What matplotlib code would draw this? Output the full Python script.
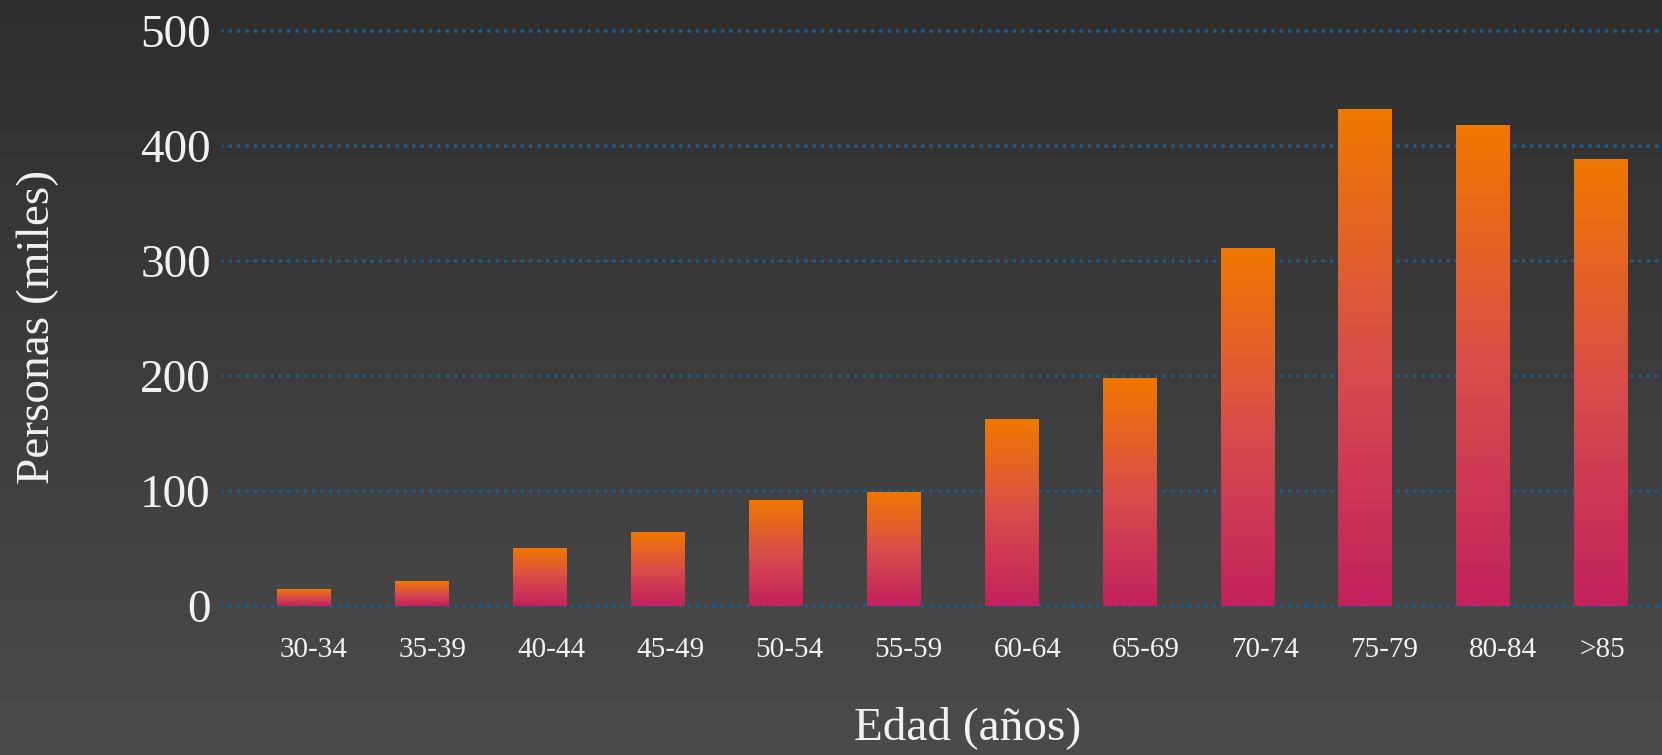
import numpy as np
import matplotlib.pyplot as plt
import matplotlib.transforms as mtransforms
from matplotlib.colors import LinearSegmentedColormap

# datos
grupos = ['30-34', '35-39', '40-44', '45-49', '50-54', '55-59',
          '60-64', '65-69', '70-74', '75-79', '80-84', '>85']
personas = [14, 21, 50, 64, 92, 99, 162, 198, 311, 432, 418, 388]
yticks = [0, 100, 200, 300, 400, 500]

# desplazamiento horizontal de las etiquetas (px), como en el original
label_dx = [10, 11, 12, 13, 14, 15, 16, 17, 18, 19, 20, 2]

plt.rcParams['font.family'] = ['Liberation Serif', 'DejaVu Serif']

fig = plt.figure(figsize=(16.62, 7.55), dpi=100)

# fondo degradado
bg = fig.add_axes([0, 0, 1, 1], zorder=-10)
grad = np.linspace(0, 1, 256).reshape(-1, 1)
bg_cmap = LinearSegmentedColormap.from_list('bg', ['#2e2e2e', '#4b4b4b'])
bg.imshow(grad, cmap=bg_cmap, aspect='auto', extent=[0, 1, 0, 1], origin='upper')
bg.axis('off')

ax = fig.add_axes([0.1336, 0.1897, 0.8664, 0.7838])
ax.set_facecolor('none')

# barras con degradado naranja -> rosa
bar_cmap = LinearSegmentedColormap.from_list('barra', ['#c2215e', '#d94d4a', '#f07800'])
ancho = 0.45
x = np.arange(len(grupos))
bars = ax.bar(x, personas, width=ancho, color='none', zorder=3)
for b in bars:
    x0, y0 = b.get_x(), b.get_y()
    w, h = b.get_width(), b.get_height()
    ax.imshow(grad[::-1], cmap=bar_cmap, aspect='auto', origin='upper',
              extent=[x0, x0 + w, y0, y0 + h], zorder=3)
ax.set_xlim(-0.695, 11.52)
ax.set_ylim(-5, 509.6)

for t in yticks:
    ax.axhline(t, color='#1f5a82', linewidth=2.9, linestyle=(0, (0.001, 2.07)),
               dash_capstyle='round', zorder=1)

ax.set_yticks(yticks)
ax.set_xticks(x)
ax.set_xticklabels(grupos)
ax.tick_params(axis='y', length=0, pad=8, labelsize=34, labelcolor='#f2f2f2')
ax.tick_params(axis='x', length=0, pad=18, labelsize=21, labelcolor='#f2f2f2')
for lab, dx in zip(ax.get_xticklabels(), label_dx):
    lab.set_transform(lab.get_transform() +
                      mtransforms.ScaledTranslation(dx / 100, 0, fig.dpi_scale_trans))
for s in ax.spines.values():
    s.set_visible(False)

fig.text(38 / 1662, 1 - 327 / 755, 'Personas (miles)', rotation=90, fontsize=34,
         color='#f2f2f2', ha='center', va='center')
fig.text(968 / 1662, 1 - 728 / 755, 'Edad (años)', fontsize=34,
         color='#f2f2f2', ha='center', va='center')

fig.savefig('out.png', dpi=100)
